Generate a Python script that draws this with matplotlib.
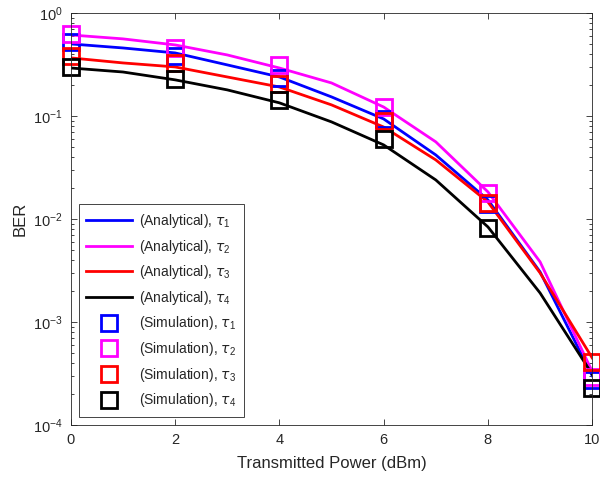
import matplotlib
matplotlib.use("Agg")
import matplotlib.pyplot as plt
import numpy as np

plt.rcParams["font.family"] = ["Liberation Sans", "DejaVu Sans"]
plt.rcParams["mathtext.fontset"] = "custom"
plt.rcParams["mathtext.rm"] = "Liberation Sans"
plt.rcParams["mathtext.it"] = "DejaVu Sans:italic"

power = [0, 1, 2, 3, 4, 5, 6, 7, 8, 9, 10]
ana_tau1 = [0.500, 0.457, 0.409, 0.313, 0.239, 0.153, 0.0935, 0.0418, 0.0153, 0.00306, 0.000300]
ana_tau2 = [0.611, 0.560, 0.489, 0.391, 0.292, 0.209, 0.122, 0.0560, 0.0183, 0.00383, 0.000330]
ana_tau3 = [0.366, 0.327, 0.299, 0.239, 0.191, 0.128, 0.0780, 0.0374, 0.0146, 0.00299, 0.000447]
ana_tau4 = [0.292, 0.267, 0.224, 0.179, 0.134, 0.0875, 0.0523, 0.0239, 0.00836, 0.00191, 0.000310]

sim_power = [0, 2, 4, 6, 8, 10]
sim_tau1 = [0.52, 0.383, 0.234, 0.093, 0.0140, 0.000273]
sim_tau2 = [0.62, 0.457, 0.313, 0.122, 0.0179, 0.000292]
sim_tau3 = [0.38, 0.327, 0.205, 0.089, 0.0143, 0.000409]
sim_tau4 = [0.30, 0.229, 0.143, 0.060, 0.0082, 0.000229]

colors = ["#0000ff", "#ff00ff", "#ff0000", "#000000"]
ana = [ana_tau1, ana_tau2, ana_tau3, ana_tau4]
sim = [sim_tau1, sim_tau2, sim_tau3, sim_tau4]

axcol = "#262626"

fig = plt.figure(figsize=(6, 4.79), dpi=100)
ax = fig.add_axes([0.118, 0.113, 0.869, 0.86])

for i in range(4):
    ax.semilogy(power, ana[i], color=colors[i], lw=2.0,
                label="(Analytical), $\\tau_{%d}$" % (i + 1))
for i in range(4):
    ax.semilogy(sim_power, sim[i], ls="none", marker="s", ms=11,
                mfc="none", mec=colors[i], mew=2.0, clip_on=False,
                label="(Simulation), $\\tau_{%d}$" % (i + 1))

ax.set_xlim(0, 10)
ax.set_ylim(1e-4, 1)
ax.set_xticks([0, 2, 4, 6, 8, 10])
ax.tick_params(which="both", direction="in", top=True, right=True,
               colors=axcol, labelsize=10.5, width=0.6)
ax.tick_params(which="major", length=4, pad=6)
ax.tick_params(which="minor", length=2.2)
for s in ax.spines.values():
    s.set_color(axcol)
    s.set_linewidth(0.6)

ax.set_xlabel("Transmitted Power (dBm)", fontsize=12, color=axcol, labelpad=6)
ax.set_ylabel("BER", fontsize=12, color=axcol, labelpad=4)

leg = ax.legend(loc="lower left", bbox_to_anchor=(0.015, 0.019),
                borderaxespad=0, fontsize=10, fancybox=False,
                framealpha=1, edgecolor=axcol, handlelength=3.3,
                labelspacing=0.55, handletextpad=0.5, borderpad=0.55)
leg.get_frame().set_linewidth(0.6)
for t in leg.get_texts():
    t.set_color(axcol)

fig.savefig("out.png", dpi=100)
